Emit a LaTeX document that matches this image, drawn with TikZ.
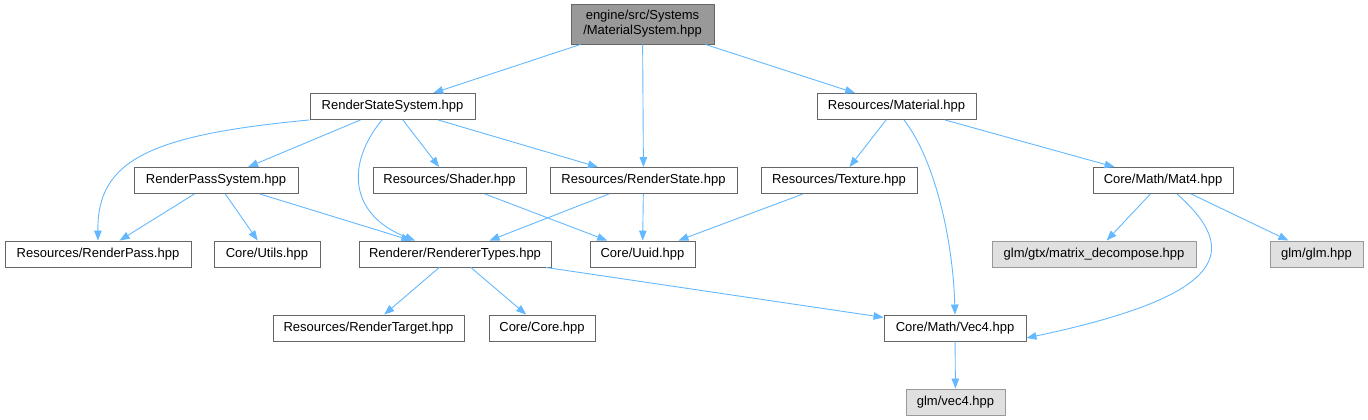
\documentclass[tikz,border=0pt]{standalone}
\usepackage{fontspec}
\setmainfont{Liberation Sans}
\usetikzlibrary{arrows.meta}
\definecolor{edgeblue}{HTML}{63B8FF}
\definecolor{boxline}{HTML}{666666}
\definecolor{rootfill}{HTML}{999999}
\definecolor{extfill}{HTML}{E0E0E0}
\definecolor{extline}{HTML}{999999}

\begin{document}
\begin{tikzpicture}[x=1pt, y=-1pt,
  every node/.style={font=\fontsize{13}{15}\selectfont},
  file/.style={draw=boxline, line width=0.9pt, fill=white, inner sep=0pt,
    minimum width=#1, minimum height=26pt},
  ext/.style={file=#1, draw=extline, fill=extfill},
  dep/.style={draw=edgeblue, line width=0.9pt, -{Triangle[length=10pt,width=7.5pt]}}]
  \useasboundingbox (0,0) rectangle (1368,420);
  \node[file=143pt, fill=rootfill, minimum height=40pt, align=center] (MS) at (642.5,24)
    {engine/src/Systems\\/MaterialSystem.hpp};
  \node[file=165pt] (RSS) at (392.5,106.5) {RenderStateSystem.hpp};
  \node[file=159pt] (MAT) at (896.5,106.5) {Resources/Material.hpp};
  \node[file=164pt] (RPS) at (216,180.5) {RenderPassSystem.hpp};
  \node[file=153pt] (SHD) at (449.5,180.5) {Resources/Shader.hpp};
  \node[file=187pt] (RST) at (643.5,180.5) {Resources/RenderState.hpp};
  \node[file=156pt] (TEX) at (839,180.5) {Resources/Texture.hpp};
  \node[file=140pt] (MAT4) at (1163,180.5) {Core/Math/Mat4.hpp};
  \node[file=186pt] (RP) at (98,254) {Resources/RenderPass.hpp};
  \node[file=106pt] (UTL) at (267,254) {Core/Utils.hpp};
  \node[file=192pt] (RT) at (455,254) {Renderer/RendererTypes.hpp};
  \node[file=105pt] (UUID) at (642.5,254) {Core/Uuid.hpp};
  \node[ext=204pt] (MDEC) at (1094,254) {glm/gtx/matrix\_decompose.hpp};
  \node[ext=93pt] (GLM) at (1316.5,254) {glm/glm.hpp};
  \node[file=191pt] (RTG) at (368.5,328) {Resources/RenderTarget.hpp};
  \node[file=106pt] (CORE) at (542,328) {Core/Core.hpp};
  \node[file=142pt] (VEC4) at (955,328) {Core/Math/Vec4.hpp};
  \node[ext=99pt] (GVEC4) at (955.5,402) {glm/vec4.hpp};
  \draw[dep] (MS) -- (RSS);
  \draw[dep] (MS) -- (RST);
  \draw[dep] (MS) -- (MAT);
  \draw[dep] (RSS.south west) .. controls (150,135) and (97,160) .. (RP.north);
  \draw[dep] (RSS) -- (RPS);
  \draw[dep] ([xshift=-10.5pt]RSS.south) .. controls (345,165) and (350,215) .. ([xshift=-40pt]RT.north);
  \draw[dep] (RSS) -- (SHD);
  \draw[dep] (RSS) -- (RST);
  \draw[dep] (RPS) -- (RP);
  \draw[dep] (RPS) -- (UTL);
  \draw[dep] (RPS) -- (RT);
  \draw[dep] (SHD) -- (UUID);
  \draw[dep] (RST) -- (RT);
  \draw[dep] (RST) -- (UUID);
  \draw[dep] (TEX) -- (UUID);
  \draw[dep] (MAT) -- (TEX);
  \draw[dep] ([xshift=7.5pt]MAT.south) .. controls (935,160) and (953,240) .. (VEC4.north);
  \draw[dep] (MAT) -- (MAT4);
  \draw[dep] (MAT4) -- (MDEC);
  \draw[dep] (MAT4) -- (GLM);
  \draw[dep] ([xshift=14pt]MAT4.south) .. controls (1240,250) and (1230,295) .. ([yshift=-10pt]VEC4.east);
  \draw[dep] (RT) -- (RTG);
  \draw[dep] (RT) -- (CORE);
  \draw[dep] (RT) -- (VEC4);
  \draw[dep] (VEC4) -- (GVEC4);
\end{tikzpicture}
\end{document}
